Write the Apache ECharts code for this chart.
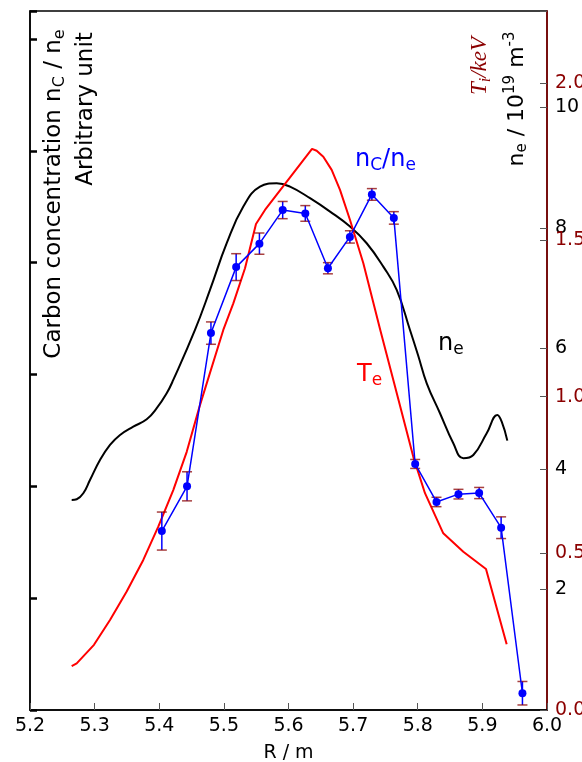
<!DOCTYPE html>
<html>
<head>
<meta charset="utf-8">
<script src="https://cdn.jsdelivr.net/npm/echarts@6/dist/echarts.min.js"></script>
<style>
  html, body { margin: 0; padding: 0; background: #ffffff; }
  #chart { width: 582px; height: 762px; }
</style>
</head>
<body>
<div id="chart"></div>
<script>
// Carbon concentration n_C/n_e (arbitrary unit) with symmetric uncertainties
const rCarbon = [5.404, 5.443, 5.480, 5.519, 5.555, 5.591, 5.626, 5.661, 5.695, 5.729, 5.763, 5.796, 5.829, 5.863, 5.895, 5.929, 5.962];
const carbon = [1.60, 2.00, 3.37, 3.96, 4.17, 4.47, 4.44, 3.95, 4.23, 4.61, 4.40, 2.20, 1.86, 1.93, 1.94, 1.63, 0.15];
const carbonErr = [0.17, 0.13, 0.10, 0.12, 0.095, 0.077, 0.07, 0.05, 0.055, 0.052, 0.056, 0.04, 0.042, 0.043, 0.05, 0.097, 0.105];

// Electron temperature profile (keV)
const rTe = [5.2645, 5.2723, 5.299, 5.3238, 5.3496, 5.3753, 5.3985, 5.4217, 5.4425, 5.463, 5.4991, 5.5146, 5.5327, 5.5497, 5.5636, 5.6364, 5.6436, 5.6539, 5.6668, 5.6797, 5.6952, 5.7158, 5.742, 5.7622, 5.7931, 5.8112, 5.8395, 5.8705, 5.9056, 5.9376];
const te = [0.140, 0.149, 0.208, 0.287, 0.378, 0.479, 0.585, 0.702, 0.824, 0.973, 1.213, 1.298, 1.410, 1.551, 1.596, 1.791, 1.785, 1.766, 1.724, 1.660, 1.564, 1.426, 1.213, 1.053, 0.808, 0.692, 0.564, 0.505, 0.450, 0.210];

// Electron density profile (10^19 m^-3)
const rNe = [5.2645, 5.2723, 5.2825, 5.2928, 5.3083, 5.3238, 5.3393, 5.3598, 5.3806, 5.3961, 5.4115, 5.4217, 5.4553, 5.4785, 5.5044, 5.5301, 5.5559, 5.5817, 5.6023, 5.6333, 5.6643, 5.6952, 5.721, 5.7467, 5.7674, 5.788, 5.8004, 5.8139, 5.8344, 5.855, 5.8705, 5.886, 5.9067, 5.9231, 5.9299, 5.9386];
const ne = [3.485, 3.497, 3.597, 3.817, 4.149, 4.398, 4.564, 4.702, 4.825, 5.008, 5.256, 5.477, 6.307, 6.971, 7.746, 8.354, 8.685, 8.742, 8.685, 8.493, 8.271, 8.022, 7.746, 7.358, 6.971, 6.307, 5.892, 5.422, 4.925, 4.427, 4.178, 4.232, 4.593, 4.896, 4.785, 4.470];

// Axis ticks
const xTicks = [5.2, 5.3, 5.4, 5.5, 5.6, 5.7, 5.8, 5.9, 6.0];
const neTicks = [2, 4, 6, 8, 10];
const teTicks = [0.0, 0.5, 1.0, 1.5, 2.0];

const FONT = 'DejaVu Sans';
const DARK_RED = '#8b0000';
const CAP_COLOR = 'rgba(139, 0, 0, 0.75)';

const pairs = (xs, ys) => xs.map((x, i) => [x, ys[i]]);
const onTick = (list, v) => list.some(t => Math.abs(t - v) < 1e-6);

const chart = echarts.init(document.getElementById('chart'), null, { renderer: 'canvas' });

const option = {
  animation: false,
  backgroundColor: '#ffffff',
  grid: {
    left: 30, right: 35, top: 11, bottom: 52,
    outerBoundsMode: 'none', containLabel: false,
    show: true, borderColor: '#000000', borderWidth: 1.5, backgroundColor: 'transparent'
  },
  xAxis: {
    type: 'value', min: 5.2, max: 6.0, interval: 0.1,
    axisLine: { show: true, lineStyle: { color: '#000', width: 1.5 } },
    axisTick: { show: true, inside: true, length: 7, lineStyle: { color: '#555', width: 1 } },
    axisLabel: {
      color: '#000', fontSize: 19, fontFamily: FONT, margin: 7,
      formatter: v => onTick(xTicks, v) ? v.toFixed(1) : ''
    },
    splitLine: { show: false },
    name: 'R / m', nameLocation: 'middle', nameGap: 34,
    nameTextStyle: { color: '#000', fontSize: 19, fontFamily: FONT }
  },
  yAxis: [
    {
      // carbon concentration, arbitrary unit
      type: 'value', position: 'left', min: 0, max: 6.25, interval: 1,
      axisLine: { show: true, lineStyle: { color: '#000', width: 1.5 } },
      axisTick: { show: true, inside: true, length: 7, lineStyle: { color: '#000', width: 2.5 } },
      axisLabel: { show: false },
      splitLine: { show: false }
    },
    {
      // electron density
      type: 'value', position: 'right', min: 0, max: 11.6, interval: 2,
      axisLine: { show: false },
      axisTick: { show: true, inside: true, length: 7, lineStyle: { color: '#555', width: 1 } },
      axisLabel: {
        color: '#000', fontSize: 19, fontFamily: FONT, margin: 8,
        formatter: v => onTick(neTicks, v) ? String(v) : ''
      },
      splitLine: { show: false }
    },
    {
      // temperature
      type: 'value', position: 'right', min: 0, max: 2.231, interval: 0.5,
      axisLine: { show: true, lineStyle: { color: DARK_RED, width: 1.5 } },
      axisTick: { show: true, inside: true, length: 7, lineStyle: { color: '#555', width: 1 } },
      axisLabel: {
        color: DARK_RED, fontSize: 19, fontFamily: FONT, margin: 8,
        formatter: v => onTick(teTicks, v) ? v.toFixed(1) : ''
      },
      splitLine: { show: false }
    }
  ],
  series: [
    {
      name: 'ne', type: 'line', yAxisIndex: 1,
      data: pairs(rNe, ne), smooth: 0.45, showSymbol: false,
      lineStyle: { color: '#000', width: 2 }, z: 2
    },
    {
      name: 'Te', type: 'line', yAxisIndex: 2,
      data: pairs(rTe, te), smooth: false, showSymbol: false,
      lineStyle: { color: '#ff0000', width: 2 }, z: 3
    },
    {
      name: 'nC/ne', type: 'line', yAxisIndex: 0,
      data: pairs(rCarbon, carbon), smooth: false,
      symbol: 'circle', symbolSize: 8, showSymbol: true,
      itemStyle: { color: '#0000ff' },
      lineStyle: { color: '#0000ff', width: 1.5 }, z: 5
    },
    {
      name: 'nC/ne error', type: 'custom', yAxisIndex: 0,
      data: rCarbon.map((x, i) => [x, carbon[i] - carbonErr[i], carbon[i] + carbonErr[i]]),
      encode: { x: 0, y: [1, 2] },
      renderItem: (params, api) => {
        const x = api.value(0);
        const top = api.coord([x, api.value(2)]);
        const bot = api.coord([x, api.value(1)]);
        const w = 5;
        return {
          type: 'group',
          children: [
            { type: 'line', shape: { x1: top[0], y1: top[1], x2: bot[0], y2: bot[1] }, style: { stroke: '#0000ff', lineWidth: 1.5 } },
            { type: 'line', shape: { x1: top[0] - w, y1: top[1], x2: top[0] + w, y2: top[1] }, style: { stroke: CAP_COLOR, lineWidth: 1.5 } },
            { type: 'line', shape: { x1: bot[0] - w, y1: bot[1], x2: bot[0] + w, y2: bot[1] }, style: { stroke: CAP_COLOR, lineWidth: 1.5 } }
          ]
        };
      },
      z: 4
    }
  ],
  graphic: [
    // left axis title, two rotated lines
    {
      type: 'text', x: 54, y: 194, rotation: Math.PI / 2, z: 100,
      style: {
        text: '{a|Carbon concentration n}{s|C}{a| / n}{s|e}',
        align: 'center', verticalAlign: 'middle', fill: '#000',
        rich: {
          a: { fontSize: 23, fontFamily: FONT, fill: '#000' },
          s: { fontSize: 16, fontFamily: FONT, fill: '#000', padding: [11, 0, 0, 0] }
        }
      }
    },
    {
      type: 'text', x: 86, y: 109, rotation: Math.PI / 2, z: 100,
      style: {
        text: 'Arbitrary unit', align: 'center', verticalAlign: 'middle',
        fontSize: 23, fontFamily: FONT, fill: '#000'
      }
    },
    // right axis titles
    {
      type: 'text', x: 517, y: 99, rotation: Math.PI / 2, z: 100,
      style: {
        text: '{a|n}{s|e}{a| / 10}{p|19}{a| m}{p|-3}',
        align: 'center', verticalAlign: 'middle', fill: '#000',
        rich: {
          a: { fontSize: 22, fontFamily: FONT, fill: '#000' },
          s: { fontSize: 15, fontFamily: FONT, fill: '#000', padding: [11, 0, 0, 0] },
          p: { fontSize: 15, fontFamily: FONT, fill: '#000', padding: [0, 0, 13, 0] }
        }
      }
    },
    {
      type: 'text', x: 480, y: 66, rotation: Math.PI / 2, z: 100,
      style: {
        text: '{a|T}{s|i}{a|/keV}',
        align: 'center', verticalAlign: 'middle', fill: DARK_RED,
        rich: {
          a: { fontSize: 23, fontFamily: 'Liberation Serif', fontStyle: 'italic', fill: DARK_RED },
          s: { fontSize: 16, fontFamily: 'Liberation Serif', fontStyle: 'italic', fill: DARK_RED, padding: [11, 0, 0, 0] }
        }
      }
    },
    // curve annotations
    {
      type: 'text', x: 355, y: 160, z: 100,
      style: {
        text: '{a|n}{s|C}{a|/n}{s|e}', align: 'left', verticalAlign: 'middle', fill: '#0000ff',
        rich: {
          a: { fontSize: 24, fontFamily: FONT, fill: '#0000ff' },
          s: { fontSize: 17, fontFamily: FONT, fill: '#0000ff', padding: [12, 0, 0, 0] }
        }
      }
    },
    {
      type: 'text', x: 438, y: 344, z: 100,
      style: {
        text: '{a|n}{s|e}', align: 'left', verticalAlign: 'middle', fill: '#000',
        rich: {
          a: { fontSize: 24, fontFamily: FONT, fill: '#000' },
          s: { fontSize: 17, fontFamily: FONT, fill: '#000', padding: [12, 0, 0, 0] }
        }
      }
    },
    {
      type: 'text', x: 357, y: 375, z: 100,
      style: {
        text: '{a|T}{s|e}', align: 'left', verticalAlign: 'middle', fill: '#ff0000',
        rich: {
          a: { fontSize: 24, fontFamily: FONT, fill: '#ff0000' },
          s: { fontSize: 17, fontFamily: FONT, fill: '#ff0000', padding: [12, 0, 0, 0] }
        }
      }
    }
  ]
};

chart.setOption(option);
</script>
</body>
</html>
